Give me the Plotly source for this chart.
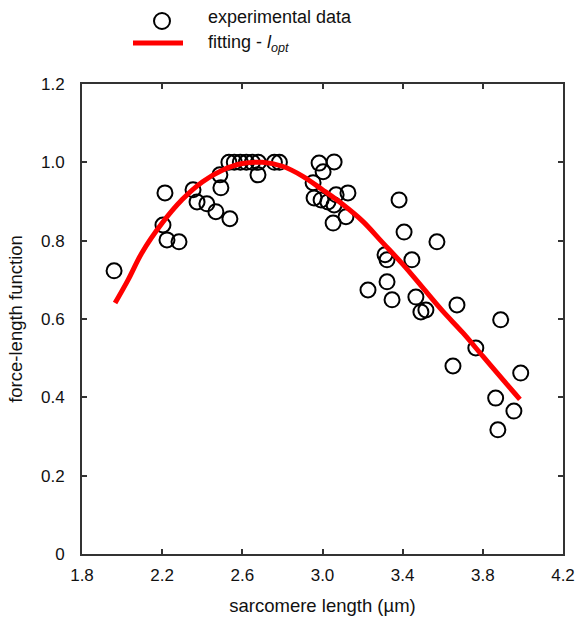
import plotly.graph_objects as go

# experimental data
exp_x = [1.96, 2.204, 2.214, 2.224, 2.284, 2.354, 2.374, 2.423, 2.468, 2.538, 2.493, 2.488,
         2.533, 2.56, 2.59, 2.62, 2.65, 2.68, 2.76, 2.785, 2.678,
         2.983, 3.058, 3.003, 2.953, 2.958, 2.993, 3.027, 3.058, 3.068, 3.127, 3.117, 3.053,
         3.382, 3.407, 3.571, 3.312, 3.322, 3.446, 3.322, 3.227, 3.347, 3.466, 3.491, 3.516,
         3.671, 3.889, 3.765, 3.651, 3.989, 3.864, 3.955, 3.875]
exp_y = [0.723, 0.840, 0.922, 0.802, 0.797, 0.930, 0.899, 0.894, 0.874, 0.856, 0.935, 0.968,
         1.0, 1.0, 1.0, 1.0, 1.0, 1.0, 1.0, 1.0, 0.968,
         0.998, 1.001, 0.976, 0.948, 0.909, 0.904, 0.899, 0.891, 0.917, 0.922, 0.861, 0.845,
         0.904, 0.822, 0.797, 0.764, 0.751, 0.751, 0.695, 0.674, 0.649, 0.656, 0.618, 0.623,
         0.636, 0.598, 0.526, 0.480, 0.462, 0.398, 0.365, 0.317]

# fitted curve
fit_x = [1.965, 2.03, 2.1, 2.2, 2.3, 2.4, 2.5, 2.6, 2.7, 2.8, 2.9, 3.0, 3.1, 3.2, 3.3,
         3.4, 3.5, 3.6, 3.7, 3.8, 3.9, 3.985]
fit_y = [0.641, 0.70, 0.77, 0.845, 0.905, 0.95, 0.98, 0.997, 1.0, 0.99, 0.965, 0.93, 0.893,
         0.85, 0.795, 0.74, 0.68, 0.62, 0.565, 0.505, 0.445, 0.395]

x_ticks = [1.8, 2.2, 2.6, 3.0, 3.4, 3.8, 4.2]
x_ticktext = ["1.8", "2.2", "2.6", "3.0", "3.4", "3.8", "4.2"]
y_ticks = [0, 0.2, 0.4, 0.6, 0.8, 1.0, 1.2]
y_ticktext = ["0", "0.2", "0.4", "0.6", "0.8", "1.0", "1.2"]

FONT = "Liberation Sans, Arial, sans-serif"
AX = "#333333"
TXT = "#111111"

fig = go.Figure()
fig.add_trace(go.Scatter(
    x=exp_x, y=exp_y, mode="markers", name="experimental data",
    marker=dict(symbol="circle-open", size=15, color="black", line=dict(width=2, color="black")),
    showlegend=False))
fig.add_trace(go.Scatter(
    x=fit_x, y=fit_y, mode="lines", name="fitting",
    line=dict(color="#ff0000", width=5, shape="spline"), showlegend=False))

# manual legend (plot area on the page: x 82..563, y 84..554)
def px(x):
    return (x - 82) / 481

def py(y):
    return (554 - y) / 470

fig.add_shape(type="circle", xref="paper", yref="paper",
              x0=px(154), x1=px(170), y0=py(29), y1=py(13),
              line=dict(color="black", width=2))
fig.add_shape(type="line", xref="paper", yref="paper",
              x0=px(133), x1=px(183), y0=py(43), y1=py(43),
              line=dict(color="#ff0000", width=5))
fig.add_annotation(xref="paper", yref="paper", x=px(206), y=py(17),
                   text="experimental data", showarrow=False, xanchor="left", yanchor="middle",
                   font=dict(family=FONT, size=18, color=TXT))
fig.add_annotation(xref="paper", yref="paper", x=px(206), y=py(43),
                   text="fitting - <i>l</i><sub><i>opt</i></sub>", showarrow=False,
                   xanchor="left", yanchor="middle",
                   font=dict(family=FONT, size=18, color=TXT))

axis_common = dict(showline=True, linecolor=AX, linewidth=2, mirror="allticks",
                   ticks="inside", ticklen=5, tickwidth=1.5, tickcolor=AX,
                   showgrid=False, zeroline=False, automargin=False,
                   tickfont=dict(family=FONT, size=17, color=TXT))

fig.update_layout(
    width=577, height=626, autosize=False,
    margin=dict(l=82, r=14, t=84, b=72),
    paper_bgcolor="white", plot_bgcolor="white",
    font=dict(family=FONT, size=17, color=TXT),
    xaxis=dict(range=[1.8, 4.2], tickvals=x_ticks, ticktext=x_ticktext,
               ticklabelstandoff=5,
               title=dict(text="sarcomere length (µm)", standoff=15,
                          font=dict(family=FONT, size=18.5, color=TXT)), **axis_common),
    yaxis=dict(range=[0, 1.2], tickvals=y_ticks, ticktext=y_ticktext,
               ticklabelstandoff=12,
               title=dict(text="force-length function", standoff=13,
                          font=dict(family=FONT, size=18.5, color=TXT)), **axis_common),
)

fig.write_html(
    "out.html",
    config={"responsive": False, "displayModeBar": False},
    post_script="document.body.style.margin='0';document.body.style.overflow='hidden';",
)
